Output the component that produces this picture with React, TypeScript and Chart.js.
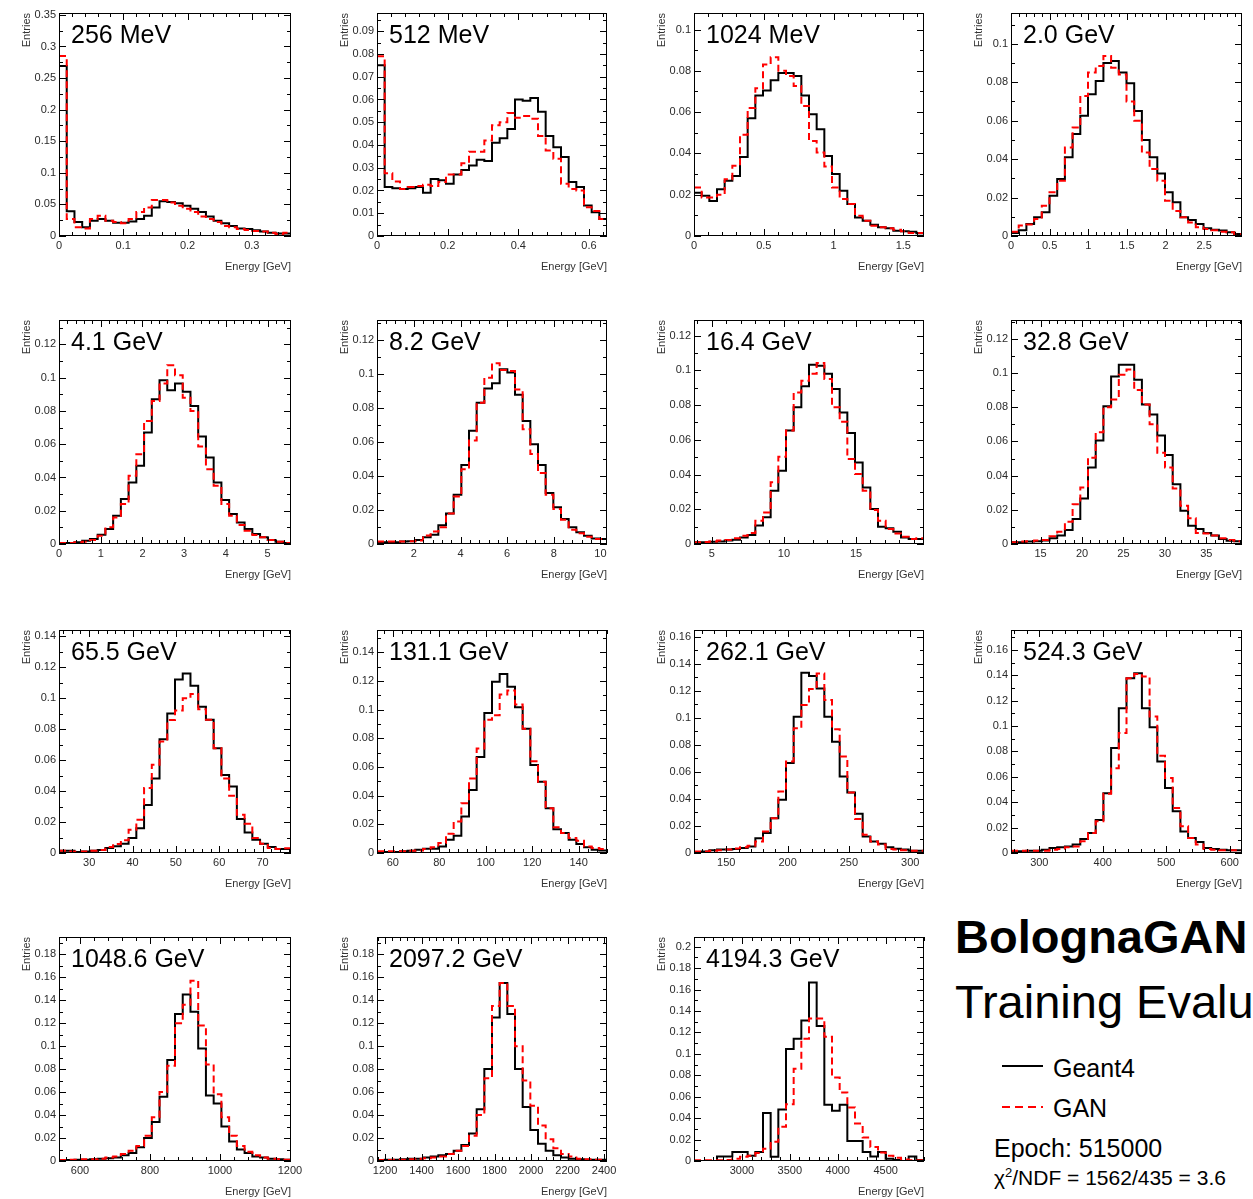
import React, { useEffect, useRef } from "react";
import { Chart, registerables } from "chart.js";

Chart.register(...registerables);

const FONT = "'Liberation Sans', Arial, Helvetica, sans-serif";
Chart.defaults.font.family = FONT;

// ---------- data ----------
const TITLES = ["256 MeV", "512 MeV", "1024 MeV", "2.0 GeV", "4.1 GeV", "8.2 GeV", "16.4 GeV", "32.8 GeV", "65.5 GeV", "131.1 GeV", "262.1 GeV", "524.3 GeV", "1048.6 GeV", "2097.2 GeV", "4194.3 GeV"];
const X_MIN = [0, 0, 0, 0, 0, 0.42, 3.77, 11.43, 23.04, 53.2, 123.7, 255.4, 540, 1156, 2500];
const X_MAX = [0.361, 0.651, 1.648, 2.99, 5.56, 10.28, 19.71, 39.3, 76.57, 152.2, 311.2, 619.4, 1203, 2416, 4900];
const Y_MAX = [0.353, 0.098, 0.108, 0.116, 0.1347, 0.132, 0.129, 0.131, 0.1439, 0.1555, 0.165, 0.1756, 0.195, 0.195, 0.209];
const X_TICKS = [
  [0, 0.1, 0.2, 0.3],
  [0, 0.2, 0.4, 0.6],
  [0, 0.5, 1, 1.5],
  [0, 0.5, 1, 1.5, 2, 2.5],
  [0, 1, 2, 3, 4, 5],
  [2, 4, 6, 8, 10],
  [5, 10, 15],
  [15, 20, 25, 30, 35],
  [30, 40, 50, 60, 70],
  [60, 80, 100, 120, 140],
  [150, 200, 250, 300],
  [300, 400, 500, 600],
  [600, 800, 1000, 1200],
  [1200, 1400, 1600, 1800, 2000, 2200, 2400],
  [3000, 3500, 4000, 4500],
];
const Y_T10 = [0, 0.02, 0.04, 0.06, 0.08, 0.1];
const Y_T12 = [0, 0.02, 0.04, 0.06, 0.08, 0.1, 0.12];
const Y_T14 = [0, 0.02, 0.04, 0.06, 0.08, 0.1, 0.12, 0.14];
const Y_T16 = [0, 0.02, 0.04, 0.06, 0.08, 0.1, 0.12, 0.14, 0.16];
const Y_T18 = [0, 0.02, 0.04, 0.06, 0.08, 0.1, 0.12, 0.14, 0.16, 0.18];
const Y_T20 = [0, 0.02, 0.04, 0.06, 0.08, 0.1, 0.12, 0.14, 0.16, 0.18, 0.2];
const Y_TICKS = [
  [0, 0.05, 0.1, 0.15, 0.2, 0.25, 0.3, 0.35],
  [0, 0.01, 0.02, 0.03, 0.04, 0.05, 0.06, 0.07, 0.08, 0.09],
  Y_T10, Y_T10, Y_T12, Y_T12, Y_T12, Y_T12, Y_T14, Y_T14, Y_T16, Y_T16, Y_T18, Y_T18, Y_T20,
];
const NBINS = 30;

const G4_256 = [0.269, 0.039, 0.022, 0.014, 0.024, 0.027, 0.024, 0.021, 0.021, 0.023, 0.027, 0.032, 0.045, 0.055, 0.054, 0.052, 0.048, 0.043, 0.038, 0.031, 0.024, 0.02, 0.016, 0.012, 0.011, 0.009, 0.007, 0.005, 0.004, 0.004];
const GAN_256 = [0.285, 0.027, 0.014, 0.012, 0.027, 0.032, 0.024, 0.022, 0.02, 0.027, 0.038, 0.045, 0.057, 0.057, 0.053, 0.048, 0.043, 0.038, 0.031, 0.027, 0.022, 0.016, 0.014, 0.011, 0.0095, 0.008, 0.007, 0.005, 0.003, 0.005];
const G4_512 = [0.075, 0.0215, 0.021, 0.0207, 0.021, 0.0215, 0.019, 0.025, 0.0245, 0.023, 0.027, 0.029, 0.031, 0.0335, 0.033, 0.041, 0.043, 0.047, 0.06, 0.0594, 0.0606, 0.0546, 0.044, 0.039, 0.0347, 0.0237, 0.0215, 0.0134, 0.0104, 0.0075];
const GAN_512 = [0.079, 0.0276, 0.024, 0.0207, 0.0215, 0.022, 0.0225, 0.022, 0.0237, 0.027, 0.027, 0.032, 0.037, 0.037, 0.042, 0.0487, 0.05, 0.054, 0.052, 0.0527, 0.0515, 0.044, 0.0376, 0.034, 0.023, 0.0207, 0.02, 0.0126, 0.011, 0.0075];
const G4_1024 = [0.021, 0.0195, 0.017, 0.0227, 0.0267, 0.029, 0.0383, 0.057, 0.068, 0.0705, 0.0754, 0.079, 0.079, 0.0775, 0.068, 0.059, 0.0517, 0.0388, 0.03, 0.0219, 0.0155, 0.009, 0.0074, 0.0055, 0.0042, 0.0037, 0.0026, 0.0023, 0.002, 0.0013];
const GAN_1024 = [0.0235, 0.0187, 0.0187, 0.02, 0.0275, 0.034, 0.049, 0.062, 0.0715, 0.083, 0.0866, 0.08, 0.0775, 0.0726, 0.063, 0.046, 0.0404, 0.0337, 0.0235, 0.0179, 0.0155, 0.0098, 0.0074, 0.005, 0.0042, 0.0037, 0.003, 0.0023, 0.0015, 0.0015];
const G4_2000 = [0.0016, 0.003, 0.0062, 0.0097, 0.0123, 0.021, 0.0296, 0.041, 0.053, 0.0625, 0.0737, 0.0806, 0.09, 0.091, 0.085, 0.0794, 0.065, 0.05, 0.041, 0.0325, 0.0227, 0.0175, 0.0097, 0.0083, 0.0062, 0.004, 0.0033, 0.0028, 0.0019, 0.001];
const GAN_2000 = [0.0022, 0.0054, 0.006, 0.0088, 0.0157, 0.0227, 0.0287, 0.046, 0.0564, 0.0728, 0.085, 0.0884, 0.0936, 0.0875, 0.084, 0.07, 0.06, 0.0434, 0.0348, 0.0287, 0.0183, 0.013, 0.0097, 0.007, 0.0045, 0.0036, 0.003, 0.0022, 0.0019, 0.001];
const G4_4100 = [0.0006, 0.0006, 0.001, 0.002, 0.003, 0.0056, 0.009, 0.017, 0.027, 0.037, 0.047, 0.067, 0.087, 0.0985, 0.0925, 0.0965, 0.0915, 0.083, 0.0647, 0.052, 0.037, 0.0265, 0.018, 0.013, 0.009, 0.006, 0.004, 0.0024, 0.0014, 0.0006];
const GAN_4100 = [0.0006, 0.0006, 0.001, 0.0014, 0.0024, 0.005, 0.01, 0.016, 0.024, 0.041, 0.054, 0.074, 0.086, 0.0965, 0.1075, 0.1015, 0.088, 0.08, 0.0587, 0.045, 0.035, 0.024, 0.017, 0.0115, 0.008, 0.0054, 0.004, 0.0024, 0.0014, 0.0006];
const G4_8200 = [0.001, 0.001, 0.001, 0.0014, 0.0016, 0.0024, 0.004, 0.0055, 0.011, 0.018, 0.029, 0.0465, 0.0667, 0.0833, 0.0916, 0.0947, 0.103, 0.101, 0.088, 0.0725, 0.0588, 0.0465, 0.03, 0.0216, 0.0147, 0.0098, 0.0069, 0.0049, 0.0033, 0.003];
const GAN_8200 = [0.0014, 0.0014, 0.0014, 0.0014, 0.0016, 0.002, 0.005, 0.0073, 0.0098, 0.018, 0.028, 0.044, 0.061, 0.0833, 0.098, 0.1065, 0.1025, 0.102, 0.091, 0.0676, 0.053, 0.0418, 0.029, 0.0206, 0.0143, 0.0084, 0.0063, 0.0043, 0.003, 0.003];
const G4_16400 = [0.001, 0.001, 0.0013, 0.0015, 0.002, 0.0025, 0.0038, 0.0052, 0.0106, 0.0154, 0.0307, 0.0422, 0.0653, 0.0787, 0.0908, 0.1033, 0.1027, 0.098, 0.0893, 0.0758, 0.0639, 0.047, 0.0326, 0.0202, 0.01, 0.009, 0.0071, 0.0038, 0.0029, 0.0029];
const GAN_16400 = [0.001, 0.0012, 0.0015, 0.002, 0.0023, 0.0033, 0.0048, 0.0063, 0.0134, 0.0182, 0.0355, 0.0503, 0.0653, 0.0873, 0.094, 0.098, 0.1042, 0.095, 0.0787, 0.0704, 0.0489, 0.0403, 0.0307, 0.0196, 0.0134, 0.0086, 0.0061, 0.0042, 0.0029, 0.0033];
const G4_32800 = [0.001, 0.001, 0.0014, 0.0016, 0.002, 0.0033, 0.0049, 0.0082, 0.0146, 0.0266, 0.0447, 0.0606, 0.0806, 0.098, 0.1049, 0.1049, 0.0961, 0.0816, 0.0757, 0.0635, 0.052, 0.035, 0.0194, 0.0107, 0.0087, 0.0064, 0.0049, 0.0029, 0.0019, 0.0016];
const GAN_32800 = [0.001, 0.0014, 0.0016, 0.002, 0.0023, 0.0045, 0.0072, 0.013, 0.0233, 0.033, 0.0505, 0.0654, 0.08, 0.0845, 0.099, 0.102, 0.09, 0.0816, 0.07, 0.0534, 0.0447, 0.0324, 0.0223, 0.015, 0.0064, 0.0062, 0.0049, 0.0033, 0.0023, 0.0016];
const G4_65500 = [0.0015, 0.0015, 0.0006, 0.001, 0.0015, 0.002, 0.0032, 0.0043, 0.006, 0.0097, 0.016, 0.031, 0.048, 0.0734, 0.09, 0.112, 0.1159, 0.108, 0.0944, 0.086, 0.0676, 0.0504, 0.0429, 0.0219, 0.0133, 0.0086, 0.006, 0.0039, 0.0026, 0.0026];
const GAN_65500 = [0.0015, 0.001, 0.001, 0.001, 0.0015, 0.002, 0.0039, 0.0058, 0.0082, 0.015, 0.0215, 0.042, 0.057, 0.072, 0.0858, 0.092, 0.0998, 0.1026, 0.0927, 0.086, 0.0676, 0.048, 0.0369, 0.0247, 0.0189, 0.0097, 0.006, 0.0032, 0.0026, 0.003];
const G4_131100 = [0.0007, 0.0007, 0.0007, 0.0012, 0.0016, 0.0023, 0.003, 0.003, 0.0046, 0.0092, 0.012, 0.0254, 0.044, 0.067, 0.0976, 0.1195, 0.1249, 0.116, 0.1017, 0.0867, 0.0613, 0.0497, 0.0312, 0.0166, 0.0139, 0.0092, 0.0062, 0.004, 0.0023, 0.0018];
const GAN_131100 = [0.0012, 0.0012, 0.0012, 0.0012, 0.0016, 0.0018, 0.0028, 0.004, 0.007, 0.0134, 0.022, 0.0347, 0.052, 0.0728, 0.093, 0.096, 0.1105, 0.1133, 0.1036, 0.0867, 0.064, 0.0497, 0.0312, 0.018, 0.0139, 0.0104, 0.0086, 0.0046, 0.0035, 0.0028];
const G4_262100 = [0.0007, 0.0012, 0.002, 0.0025, 0.0025, 0.003, 0.0037, 0.0049, 0.011, 0.0148, 0.0258, 0.0394, 0.0665, 0.1009, 0.1334, 0.131, 0.1218, 0.1009, 0.0824, 0.0566, 0.0448, 0.029, 0.0123, 0.0086, 0.0069, 0.0042, 0.0032, 0.0025, 0.0017, 0.0017];
const GAN_262100 = [0.0012, 0.0012, 0.0017, 0.002, 0.0025, 0.0034, 0.0042, 0.0054, 0.0086, 0.016, 0.0258, 0.0455, 0.0677, 0.0923, 0.1095, 0.1213, 0.1329, 0.1132, 0.0916, 0.0714, 0.0448, 0.0251, 0.0135, 0.0086, 0.0062, 0.003, 0.0025, 0.002, 0.0017, 0.0017];
const G4_524300 = [0.0013, 0.0013, 0.0018, 0.0018, 0.0026, 0.0039, 0.0045, 0.0052, 0.0066, 0.011, 0.0157, 0.026, 0.047, 0.0826, 0.114, 0.1376, 0.1415, 0.114, 0.0991, 0.0721, 0.0511, 0.0328, 0.017, 0.0118, 0.0086, 0.0039, 0.0031, 0.0026, 0.0021, 0.0021];
const GAN_524300 = [0.0018, 0.0018, 0.0018, 0.0018, 0.0018, 0.0026, 0.0031, 0.0045, 0.0052, 0.0092, 0.0157, 0.025, 0.0467, 0.0668, 0.0944, 0.1376, 0.141, 0.139, 0.1075, 0.0765, 0.059, 0.0354, 0.021, 0.0118, 0.0066, 0.0031, 0.0026, 0.0021, 0.0021, 0.0021];
const G4_1048600 = [0.0008, 0.0008, 0.001, 0.001, 0.0015, 0.002, 0.0025, 0.003, 0.005, 0.007, 0.012, 0.02, 0.034, 0.056, 0.088, 0.128, 0.145, 0.13, 0.098, 0.057, 0.05, 0.03, 0.017, 0.01, 0.007, 0.004, 0.003, 0.002, 0.0015, 0.001];
const GAN_1048600 = [0.0008, 0.001, 0.001, 0.0015, 0.0015, 0.002, 0.003, 0.004, 0.006, 0.009, 0.013, 0.022, 0.038, 0.06, 0.083, 0.12, 0.136, 0.157, 0.118, 0.084, 0.058, 0.038, 0.022, 0.013, 0.008, 0.005, 0.003, 0.002, 0.0015, 0.001];
const G4_2097200 = [0.0008, 0.001, 0.001, 0.0015, 0.002, 0.002, 0.003, 0.004, 0.005, 0.006, 0.009, 0.014, 0.024, 0.045, 0.08, 0.125, 0.155, 0.128, 0.08, 0.047, 0.027, 0.015, 0.009, 0.005, 0.003, 0.002, 0.0015, 0.001, 0.001, 0.001];
const GAN_2097200 = [0.0008, 0.0008, 0.001, 0.001, 0.0015, 0.002, 0.0025, 0.003, 0.004, 0.006, 0.009, 0.013, 0.022, 0.04, 0.072, 0.135, 0.155, 0.135, 0.1, 0.07, 0.048, 0.031, 0.019, 0.011, 0.006, 0.004, 0.002, 0.0015, 0.001, 0.001];
const G4_4194300 = [0, 0, 0, 0.0043, 0.0043, 0.0084, 0.0084, 0.005, 0.0084, 0.0447, 0.004, 0.048, 0.1045, 0.114, 0.131, 0.1665, 0.126, 0.0524, 0.047, 0.0524, 0.0186, 0.0186, 0.0084, 0.0043, 0.0084, 0.002, 0.001, 0, 0.0043, 0.001];
const GAN_4194300 = [0.0006, 0.0006, 0.0006, 0.0006, 0.001, 0.002, 0.004, 0.005, 0.0074, 0.0115, 0.018, 0.032, 0.053, 0.086, 0.114, 0.133, 0.133, 0.116, 0.078, 0.064, 0.05, 0.035, 0.022, 0.013, 0.008, 0.005, 0.003, 0.0015, 0.0008, 0.0006];

const G4_SERIES = [G4_256, G4_512, G4_1024, G4_2000, G4_4100, G4_8200, G4_16400, G4_32800, G4_65500, G4_131100, G4_262100, G4_524300, G4_1048600, G4_2097200, G4_4194300];
const GAN_SERIES = [GAN_256, GAN_512, GAN_1024, GAN_2000, GAN_4100, GAN_8200, GAN_16400, GAN_32800, GAN_65500, GAN_131100, GAN_262100, GAN_524300, GAN_1048600, GAN_2097200, GAN_4194300];

// ---------- layout ----------
const COL_L = [59, 377, 694, 1011];
const COL_R = [291, 607, 924, 1242];
const ROW_T = [13, 320, 630, 937];
const ROW_B = [236, 544, 853, 1161];
const PAD_L = 59;
const PAD_T = 13;
const PAD_R = 16;
const PAD_B = 50;

const fmt = (v: number) => String(Math.round(v * 1e6) / 1e6);

function histPoints(values: number[], xMin: number, xMax: number) {
  const w = (xMax - xMin) / NBINS;
  const pts = values.map((v, i) => ({ x: xMin + i * w, y: v }));
  pts.push({ x: xMax, y: values[values.length - 1] });
  return pts;
}

function makeDecor(idx: number) {
  return {
    id: "decor" + idx,
    afterDatasetsDraw(chart: any) {
      const { ctx, chartArea: a, scales } = chart;
      const xs = scales.x;
      const ys = scales.y;
      ctx.save();
      ctx.strokeStyle = "#000";
      ctx.lineWidth = 1;
      ctx.strokeRect(a.left + 0.5, a.top + 0.5, a.right - a.left - 1, a.bottom - a.top - 1);
      const seg = (x1: number, y1: number, x2: number, y2: number) => {
        ctx.beginPath();
        ctx.moveTo(x1, y1);
        ctx.lineTo(x2, y2);
        ctx.stroke();
      };
      const xt = X_TICKS[idx];
      const xStep = xt[1] - xt[0];
      const xMinor = xStep / 5;
      for (let k = Math.ceil(X_MIN[idx] / xMinor - 1e-9); k * xMinor <= X_MAX[idx] + 1e-9; k++) {
        const v = k * xMinor;
        const major = Math.abs(v / xStep - Math.round(v / xStep)) < 1e-6;
        const len = major ? 7 : 4;
        const px = Math.round(xs.getPixelForValue(v)) + 0.5;
        seg(px, a.bottom, px, a.bottom - len);
        seg(px, a.top, px, a.top + len);
      }
      const yt = Y_TICKS[idx];
      const yStep = yt[1] - yt[0];
      const yMinor = yStep / 2;
      for (let k = 0; k * yMinor <= Y_MAX[idx] + 1e-9; k++) {
        const v = k * yMinor;
        const major = k % 2 === 0;
        const len = major ? 7 : 4;
        const py = Math.round(ys.getPixelForValue(v)) + 0.5;
        seg(a.left, py, a.left + len, py);
        seg(a.right, py, a.right - len, py);
      }
      ctx.fillStyle = "#000";
      ctx.font = `25px ${FONT}`;
      ctx.textAlign = "left";
      ctx.textBaseline = "alphabetic";
      ctx.fillText(TITLES[idx], a.left + 12, a.top + 30);
      ctx.fillStyle = "#333";
      ctx.font = `11px ${FONT}`;
      ctx.textAlign = "right";
      ctx.textBaseline = "middle";
      ctx.fillText("Energy [GeV]", a.right, a.bottom + 31);
      ctx.save();
      ctx.translate(a.left - 32, a.top);
      ctx.rotate(-Math.PI / 2);
      ctx.textAlign = "right";
      ctx.textBaseline = "middle";
      ctx.fillText("Entries", 0, 0);
      ctx.restore();
      ctx.restore();
    },
  };
}

function Panel({ idx }: { idx: number }) {
  const ref = useRef<HTMLCanvasElement | null>(null);
  const r = Math.floor(idx / 4);
  const c = idx % 4;
  const fw = COL_R[c] - COL_L[c];
  const fh = ROW_B[r] - ROW_T[r];
  const W = PAD_L + fw + PAD_R;
  const H = PAD_T + fh + PAD_B;

  useEffect(() => {
    if (!ref.current) return;
    const xMin = X_MIN[idx];
    const xMax = X_MAX[idx];
    const tickFont = { family: FONT, size: 11 };
    const chart = new Chart(ref.current, {
      type: "line",
      data: {
        datasets: [
          {
            label: "GAN",
            data: histPoints(GAN_SERIES[idx], xMin, xMax),
            borderColor: "#ff0000",
            borderWidth: 2,
            borderDash: [7, 4],
            stepped: "before",
            pointRadius: 0,
            fill: false,
            order: 1,
          },
          {
            label: "Geant4",
            data: histPoints(G4_SERIES[idx], xMin, xMax),
            borderColor: "#000000",
            borderWidth: 2,
            stepped: "before",
            pointRadius: 0,
            fill: false,
            order: 2,
          },
        ],
      },
      options: {
        animation: false,
        responsive: false,
        events: [],
        layout: { padding: { left: 0, top: PAD_T, right: PAD_R, bottom: 0 } },
        plugins: { legend: { display: false }, tooltip: { enabled: false } },
        scales: {
          x: {
            type: "linear",
            min: xMin,
            max: xMax,
            grid: { display: false, drawTicks: false },
            border: { display: false },
            ticks: {
              autoSkip: false,
              maxRotation: 0,
              padding: 3,
              font: tickFont,
              color: "#2a2a2a",
              callback: (v: any) => fmt(Number(v)),
            },
            afterBuildTicks: (s: any) => {
              s.ticks = X_TICKS[idx].map((v) => ({ value: v }));
            },
            afterFit: (s: any) => {
              s.height = PAD_B;
              s.paddingLeft = 0;
              s.paddingRight = 0;
            },
          },
          y: {
            type: "linear",
            min: 0,
            max: Y_MAX[idx],
            grid: { display: false, drawTicks: false },
            border: { display: false },
            ticks: {
              autoSkip: false,
              padding: 3,
              font: tickFont,
              color: "#2a2a2a",
              callback: (v: any) => fmt(Number(v)),
            },
            afterBuildTicks: (s: any) => {
              s.ticks = Y_TICKS[idx].map((v) => ({ value: v }));
            },
            afterFit: (s: any) => {
              s.width = PAD_L;
              s.paddingTop = 0;
              s.paddingBottom = 0;
            },
          },
        },
      } as any,
      plugins: [makeDecor(idx)],
    });
    return () => chart.destroy();
  }, [idx]);

  return (
    <canvas
      ref={ref}
      width={W}
      height={H}
      style={{ position: "absolute", left: COL_L[c] - PAD_L, top: ROW_T[r] - PAD_T, width: W, height: H }}
    />
  );
}

const textBase: React.CSSProperties = {
  position: "absolute",
  fontFamily: FONT,
  whiteSpace: "nowrap",
  color: "#000",
};

export default function App() {
  return (
    <div
      style={{
        position: "absolute",
        left: 0,
        top: 0,
        width: 1253,
        height: 1199,
        overflow: "hidden",
        background: "#fff",
      }}
    >
      {TITLES.map((_, i) => (
        <Panel key={i} idx={i} />
      ))}
      <div style={{ ...textBase, left: 955, top: 913, fontSize: 47, lineHeight: "47px", fontWeight: "bold" }}>BolognaGAN</div>
      <div style={{ ...textBase, left: 955, top: 978, fontSize: 47, lineHeight: "47px" }}>Training Evaluation</div>
      <div style={{ position: "absolute", left: 1002, top: 1065, width: 41, height: 2, background: "#000" }} />
      <div style={{ ...textBase, left: 1053, top: 1056, fontSize: 25, lineHeight: "25px" }}>Geant4</div>
      <div
        style={{
          position: "absolute",
          left: 1002,
          top: 1106,
          width: 41,
          height: 2,
          background: "repeating-linear-gradient(90deg, #ff0000 0px, #ff0000 8px, transparent 8px, transparent 13px)",
        }}
      />
      <div style={{ ...textBase, left: 1053, top: 1096, fontSize: 25, lineHeight: "25px" }}>GAN</div>
      <div style={{ ...textBase, left: 994, top: 1136, fontSize: 25, lineHeight: "25px" }}>Epoch: 515000</div>
      <div style={{ ...textBase, left: 994, top: 1167, fontSize: 21, lineHeight: "21px" }}>
        χ<sup style={{ fontSize: 13, lineHeight: 0 }}>2</sup>/NDF = 1562/435 = 3.6
      </div>
    </div>
  );
}
